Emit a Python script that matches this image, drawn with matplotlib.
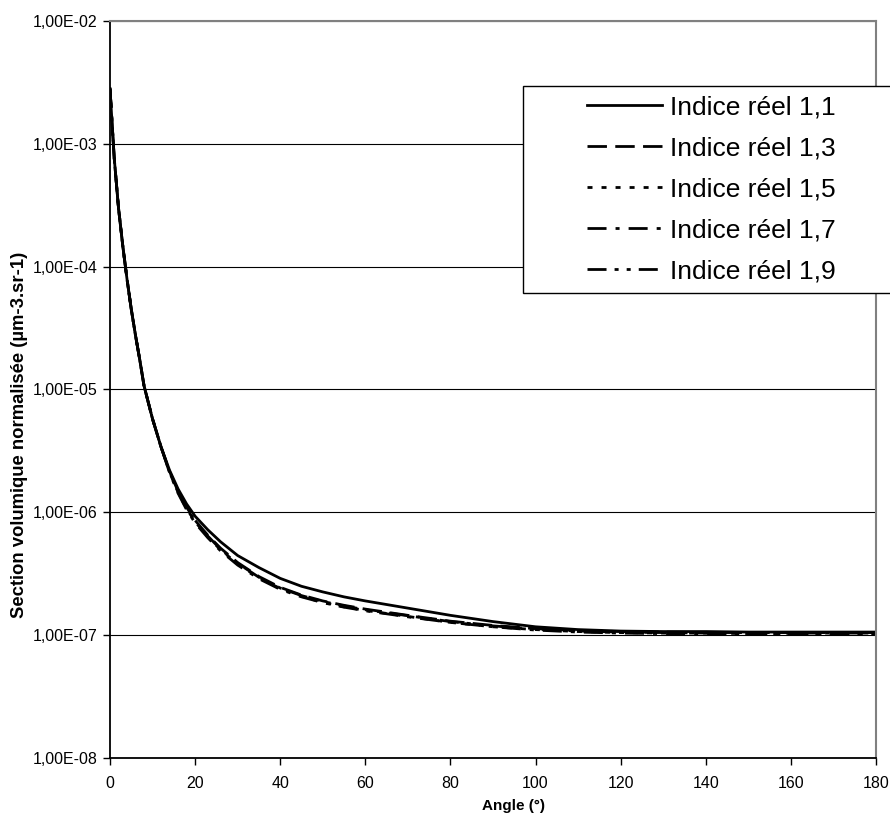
import matplotlib
matplotlib.use("Agg")
import matplotlib.pyplot as plt
from matplotlib.patches import Rectangle

plt.rcParams['font.family'] = ['Liberation Sans', 'DejaVu Sans']
plt.rcParams['lines.scale_dashes'] = False

# angle (deg) and normalised volume cross-section for each real index
angles = [0, 0.5, 1, 2, 3, 4, 5, 6, 7, 8, 10, 12, 14, 16, 18, 20, 23, 26, 30, 35,
          40, 45, 50, 55, 60, 70, 80, 90, 100, 110, 120, 130, 140, 150, 160, 170, 180]

head = [2.82e-3, 1.45e-3, 7.6e-4, 3.0e-4, 1.48e-4, 7.9e-5, 4.5e-5, 2.75e-5,
        1.74e-5, 1.07e-5, 5.75e-6, 3.4e-6]

s11 = head + [2.2e-6, 1.55e-6, 1.17e-6, 9.3e-7, 7.2e-7, 5.75e-7, 4.45e-7, 3.55e-7,
              2.9e-7, 2.5e-7, 2.25e-7, 2.05e-7, 1.9e-7, 1.66e-7, 1.45e-7, 1.29e-7,
              1.17e-7, 1.11e-7, 1.08e-7, 1.07e-7, 1.07e-7, 1.06e-7, 1.06e-7, 1.06e-7, 1.06e-7]
s13 = head + [2.15e-6, 1.48e-6, 1.1e-6, 8.6e-7, 6.5e-7, 5.1e-7, 3.9e-7, 3.0e-7,
              2.45e-7, 2.12e-7, 1.9e-7, 1.75e-7, 1.63e-7, 1.45e-7, 1.3e-7, 1.2e-7,
              1.13e-7, 1.09e-7, 1.07e-7, 1.06e-7, 1.05e-7, 1.05e-7, 1.05e-7, 1.05e-7, 1.05e-7]
s15 = head + [2.12e-6, 1.45e-6, 1.07e-6, 8.4e-7, 6.3e-7, 4.95e-7, 3.8e-7, 2.92e-7,
              2.4e-7, 2.07e-7, 1.85e-7, 1.7e-7, 1.59e-7, 1.42e-7, 1.27e-7, 1.17e-7,
              1.11e-7, 1.07e-7, 1.05e-7, 1.04e-7, 1.04e-7, 1.03e-7, 1.03e-7, 1.03e-7, 1.03e-7]
s17 = head + [2.1e-6, 1.43e-6, 1.05e-6, 8.2e-7, 6.2e-7, 4.85e-7, 3.72e-7, 2.88e-7,
              2.36e-7, 2.05e-7, 1.84e-7, 1.69e-7, 1.58e-7, 1.41e-7, 1.27e-7, 1.17e-7,
              1.1e-7, 1.06e-7, 1.04e-7, 1.03e-7, 1.03e-7, 1.02e-7, 1.02e-7, 1.02e-7, 1.02e-7]
s19 = head + [2.13e-6, 1.46e-6, 1.08e-6, 8.5e-7, 6.4e-7, 5.0e-7, 3.85e-7, 2.96e-7,
              2.42e-7, 2.1e-7, 1.88e-7, 1.73e-7, 1.61e-7, 1.44e-7, 1.29e-7, 1.19e-7,
              1.12e-7, 1.08e-7, 1.06e-7, 1.05e-7, 1.04e-7, 1.04e-7, 1.04e-7, 1.04e-7, 1.04e-7]

labels = ['Indice réel 1,1', 'Indice réel 1,3', 'Indice réel 1,5',
          'Indice réel 1,7', 'Indice réel 1,9']
xticks = [0, 20, 40, 60, 80, 100, 120, 140, 160, 180]
yticks = [1e-8, 1e-7, 1e-6, 1e-5, 1e-4, 1e-3, 1e-2]
ytick_labels = ['1,00E-08', '1,00E-07', '1,00E-06', '1,00E-05',
                '1,00E-04', '1,00E-03', '1,00E-02']

styles = ['-', (0, (14, 6)), (0, (3.6, 6.5)), (0, (13.7, 6.5, 2.9, 6.5)),
          (0, (13.7, 5.8, 2.9, 5.8, 2.9, 5.8))]

W, H = 890, 814
fig = plt.figure(figsize=(W / 100, H / 100), dpi=100)
ax = fig.add_axes([110 / W, 1 - 758 / H, (876 - 110) / W, (758 - 21) / H])

for s, ls, lab in zip([s11, s13, s15, s17, s19], styles, labels):
    ax.plot(angles, s, color='black', lw=2, linestyle=ls, label=lab)

ax.set_yscale('log')
ax.set_xlim(0, 180)
ax.set_ylim(1e-8, 1e-2)
ax.set_xticks(xticks)
ax.set_yticks(yticks)
ax.set_yticklabels(ytick_labels)
ax.minorticks_off()
ax.tick_params(axis='both', direction='out', length=5, width=1, labelsize=11.5,
               color='black')
ax.tick_params(axis='y', pad=4)
ax.tick_params(axis='x', pad=8)
ax.grid(axis='y', color='black', lw=0.8)
ax.set_axisbelow(True)

ax.spines['left'].set_color('black')
ax.spines['bottom'].set_color('black')
ax.spines['left'].set_linewidth(1.3)
ax.spines['bottom'].set_linewidth(1.3)
ax.spines['top'].set_color('#808080')
ax.spines['right'].set_color('#808080')
ax.spines['top'].set_linewidth(1.5)
ax.spines['right'].set_linewidth(1.5)

fig.text(20 / W, 1 - 435 / H, 'Section volumique normalisée (µm-3.sr-1)',
         rotation=90, ha='center', va='center', fontsize=13.3, fontweight='bold')
fig.text(514 / W, 1 - 806 / H, 'Angle (°)', ha='center', va='center',
         fontsize=11, fontweight='bold')

# legend box runs off the right edge of the picture
box = Rectangle((523 / W, 1 - 293 / H), (905 - 523) / W, (293 - 86) / H,
                transform=fig.transFigure, facecolor='white', edgecolor='black',
                lw=1, zorder=1)
fig.add_artist(box)
handles, labs = ax.get_legend_handles_labels()
fig.legend(handles, labs, loc='upper left', bbox_to_anchor=(587 / W, 1 - 95 / H),
           bbox_transform=fig.transFigure, frameon=False, fontsize=19,
           borderpad=0, borderaxespad=0, handlelength=2.85, handletextpad=0.3,
           labelspacing=0.65)

fig.savefig('out.png', dpi=100)
